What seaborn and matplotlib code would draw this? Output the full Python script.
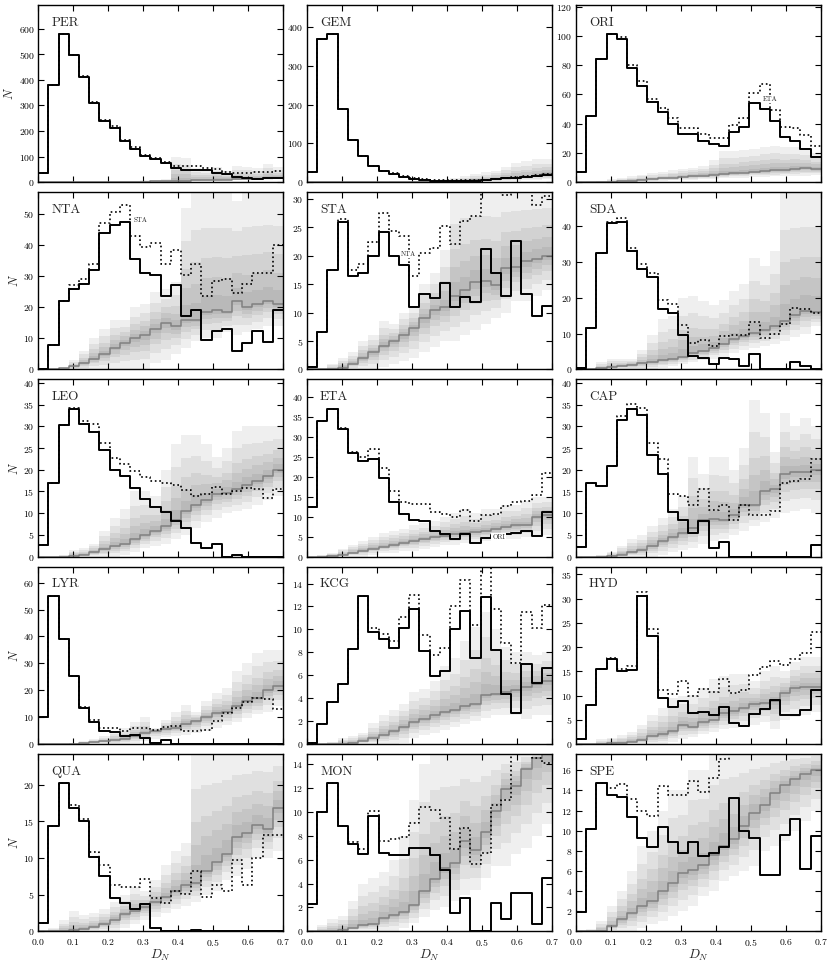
import numpy as np
import pandas as pd
import matplotlib
matplotlib.use('Agg')
import matplotlib.pyplot as plt
import seaborn as sns
from matplotlib.ticker import MultipleLocator

# D_N bins: 24 bins over 0 .. 0.7
edges = np.linspace(0.0, 0.7, 25)

# per shower: observed (solid), alternative (dotted), random median, band top, band bottom
per_obs = [35, 380, 578, 497, 413, 310, 240, 213, 160, 130, 103, 90, 75, 57, 47, 46, 46, 37, 30, 22, 16, 12, 16, 18]
per_alt = [35, 380, 578, 497, 415, 312, 242, 218, 165, 137, 108, 95, 80, 65, 62, 62, 55, 50, 40, 36, 37, 38, 40, 45]
per_med = [0, 0, 0, 0, 0, 0, 0, 0.5, 1, 1.5, 2, 3, 4, 5, 6, 7, 8, 9, 10, 11, 12, 13, 15, 18]
per_hi = [0, 0, 0, 0, 0, 1, 2, 3, 4, 5, 7, 9, 12, 100, 95, 55, 50, 60, 45, 65, 60, 55, 70, 60]
per_lo = [0, 0, 0, 0, 0, 0, 0, 0, 0, 0, 0, 0, 0, 1, 2, 3, 4, 5, 6, 7, 8, 9, 10, 11]

gem_obs = [27, 370, 382, 190, 108, 68, 42, 28, 20, 13, 8, 5, 3, 2, 2, 3, 4, 6, 8, 10, 12, 14, 16, 18]
gem_alt = [27, 370, 382, 190, 108, 68, 42, 30, 23, 15, 10, 7, 5, 5, 5, 5, 6, 6, 8, 10, 13, 16, 18, 20]
gem_med = [0, 0, 0, 0, 0, 0, 0, 0, 0, 0, 0, 1, 1.5, 2, 3, 4, 5, 6, 8, 10, 12, 14, 17, 20]
gem_hi = [0, 0, 0, 0, 0, 0, 1, 1, 2, 2, 3, 4, 5, 8, 10, 15, 20, 25, 30, 40, 50, 55, 60, 60]
gem_lo = [0, 0, 0, 0, 0, 0, 0, 0, 0, 0, 0, 0, 0, 0, 0, 0, 0, 1, 2, 3, 4, 5, 6, 8]

ori_obs = [7, 45, 84, 101, 98, 78, 66, 55, 48, 40, 33, 33, 28, 26, 25, 34, 38, 54, 50, 42, 31, 28, 23, 17]
ori_alt = [7, 45, 84, 101, 99, 80, 69, 57, 51, 44, 37, 37, 33, 30, 30, 39, 44, 61, 67, 49, 38, 37, 32, 25]
ori_med = [0, 0, 0, 0.3, 0.7, 1, 1.5, 2, 2.5, 3, 3.5, 4, 4.5, 5, 5.5, 6, 6.5, 7, 7.5, 8, 8.5, 9, 9.5, 9]
ori_hi = [0, 0.5, 1, 2, 3, 4, 5, 6, 7, 8, 9, 10, 11, 15, 21, 21, 22, 23, 24, 25, 24, 24, 22, 20]
ori_lo = [0, 0, 0, 0, 0, 0, 0.3, 0.6, 1, 1.2, 1.5, 1.8, 2, 2.3, 2.5, 3, 3, 3.5, 3.5, 4, 4, 4.5, 4.5, 5]

nta_obs = [0, 8, 22, 26, 27.5, 32, 44, 46.5, 47.5, 35.5, 31, 30.5, 23.5, 27, 17.2, 19, 9.3, 12.5, 13, 5.8, 8.5, 12.2, 8.8, 19]
nta_alt = [0, 8, 22, 27, 29, 34, 47, 50.5, 53, 43, 39.5, 40.5, 34, 38.5, 30.5, 34, 23.5, 28.5, 29, 24.5, 27.5, 31, 31, 40]
nta_med = [0, 0, 0.3, 1, 2, 3.5, 5, 7, 8.5, 10, 11, 13, 15, 14, 16, 16, 18.5, 19, 18.5, 22, 20, 21, 22, 21]
nta_hi = [0, 0, 0, 3, 6, 10, 13, 16, 16, 20, 21, 25, 26, 28, 52, 57, 57, 57, 57, 54, 57, 57, 57, 57]
nta_lo = [0, 0, 0, 0, 0, 0, 0, 0, 0, 0, 0, 2, 3, 5, 7, 9, 10, 10, 12, 11, 12, 13, 14, 14]

sta_obs = [0.5, 6.5, 17.5, 26, 16.5, 17, 20, 24.2, 20, 18.3, 11, 13.2, 12.5, 15.2, 11, 12.8, 11.8, 21.2, 16.9, 12.9, 22.6, 13.2, 9.4, 11.2]
sta_alt = [0.5, 6.5, 17.5, 26.5, 17.5, 18.5, 22.5, 27.5, 24.3, 23.5, 16.5, 20.5, 21.3, 25.2, 22, 26.2, 27, 32, 32, 30.7, 32, 32, 29, 30.5]
sta_med = [0, 0, 0, 0.3, 1, 2, 3, 4.2, 5, 6, 7.3, 9, 10.5, 11, 13, 14, 15.3, 15.5, 14.8, 17.8, 18, 19, 19.5, 20]
sta_hi = [0, 0, 1, 2, 3, 5, 6, 8.5, 8, 10, 11, 15, 17, 21, 31, 32, 32, 32, 32, 32, 32, 32, 32, 32]
sta_lo = [0, 0, 0, 0, 0, 0, 0, 0.5, 1, 1.5, 2, 3, 4, 5, 5, 6, 7, 8, 9, 10, 12, 12, 13, 14]

sda_obs = [0.5, 11.7, 32.5, 41, 41.3, 33, 28, 25.8, 17, 15.7, 9.5, 3.8, 3.3, 1.5, 3.3, 2.8, 1, 4.2, 0, 0, 0, 2, 1, 0]
sda_alt = [0.5, 11.7, 32.5, 41.3, 42.3, 34, 29.5, 27, 19.3, 18.3, 12.3, 7.5, 8.2, 6.5, 9.3, 9.5, 9.5, 13.3, 8.7, 10, 12.8, 17.3, 16.8, 15.8]
sda_med = [0, 0, 0.3, 0.7, 1, 1.3, 1.7, 2, 2.5, 3, 3.5, 4.5, 5.2, 6, 7.2, 8.5, 9.3, 10.2, 11, 12, 13.5, 15.3, 16.3, 16]
sda_hi = [0, 0.5, 2, 3, 3, 3, 5.5, 9.5, 14, 15, 20, 20.5, 19, 18, 19.5, 22, 24, 31, 29, 33, 50, 50, 50, 50]
sda_lo = [0, 0, 0, 0, 0, 0, 0, 0, 0.5, 1, 1.5, 2, 2.5, 3, 3.5, 4.5, 5.5, 6, 6.5, 7, 8, 9, 10, 12]

leo_obs = [2.8, 17, 30.2, 34, 30.6, 28.8, 24.5, 20, 18.5, 15.8, 13.3, 11.4, 10.2, 8.2, 6.6, 3.2, 2, 2.9, 0, 0.3, 0, 0, 0, 0]
leo_alt = [2.8, 17, 30.2, 34.3, 31.3, 30.5, 26.2, 22.6, 21.3, 19.8, 18.3, 17.5, 17, 16.5, 15.3, 14, 14.5, 16, 14.5, 15, 15.8, 15.6, 13.5, 15.5]
leo_med = [0, 0, 0, 0.2, 0.5, 1, 1.7, 2.5, 3, 4, 5, 6, 7, 8.5, 10.5, 12, 13, 14.5, 14.7, 15.5, 16.5, 17.5, 18.5, 20]
leo_hi = [0, 0, 0.5, 1.5, 2, 3, 6, 9, 11, 15, 15, 14, 20, 26, 28, 28, 26, 23, 25, 29, 30, 30, 30, 30]
leo_lo = [0, 0, 0, 0, 0, 0, 0, 0, 0.5, 1, 2, 2.5, 3, 4, 5, 6.5, 8, 9, 10, 10.5, 11, 12, 13, 14]

eta_obs = [12.5, 34, 37, 32, 26, 24, 24.5, 19.8, 13.6, 10.6, 9.2, 9, 6.5, 5.7, 4.4, 5.7, 3.4, 4.7, 5.5, 5.6, 5.9, 6.4, 5.3, 11.3]
eta_alt = [12.5, 34, 37, 32.2, 26.3, 25, 27, 22.3, 16.5, 13.8, 13.3, 13.2, 11.2, 10.8, 10, 11.7, 9, 10.5, 10.8, 12.8, 13.8, 14, 15.5, 21]
eta_med = [0, 0, 0.2, 0.5, 1, 1.5, 2, 2.5, 3, 3.5, 4, 4.5, 5, 5.3, 5.8, 6, 6.2, 6.5, 7, 7.5, 8, 8, 10, 10.5]
eta_hi = [0, 0.5, 1, 2, 3, 4, 5, 6, 6.5, 7, 8, 8.5, 9, 10, 11, 12, 11, 12, 12, 13, 13, 14, 15, 15]
eta_lo = [0, 0, 0, 0, 0, 0, 0.5, 1, 1, 1.5, 1.5, 2, 2.5, 3, 3, 3.5, 3.5, 4, 4, 4.5, 4.5, 5, 5, 5.5]

cap_obs = [2.2, 17, 16.3, 20.8, 31.5, 34, 32.5, 23.5, 19, 10.2, 8.5, 5.5, 8.3, 2.1, 3.3, 0, 0, 0, 0, 0, 0, 0, 0, 2.8]
cap_alt = [2.2, 17, 16.3, 20.8, 32.3, 35.2, 34.2, 26.2, 22.5, 14.5, 14, 12, 15.6, 10.8, 11.8, 8.5, 12, 9.7, 9.5, 10.5, 17, 17.3, 17.8, 22.5]
cap_med = [0, 0, 0, 0.2, 0.5, 1, 1.5, 2.5, 3.5, 4.5, 5.5, 6.5, 8.5, 8.7, 8.5, 9.5, 12, 12, 15, 15.5, 19, 19.5, 19.5, 20]
cap_hi = [0, 0, 0.5, 1, 2.5, 4, 5, 7, 9, 11, 14, 23, 19, 23, 23, 20, 25, 36, 33, 24, 33, 30, 32, 30]
cap_lo = [0, 0, 0, 0, 0, 0, 0, 0, 0.5, 1, 1.5, 2, 3, 3.5, 4, 5, 6, 7, 8, 9, 10, 10.5, 11, 10]

lyr_obs = [10.2, 55, 39, 25.2, 13.3, 8.3, 5, 4.5, 3, 3.3, 2.2, 0.4, 1.4, 0, 0, 0, 0, 0, 0, 0, 0, 0, 0, 0]
lyr_alt = [10.2, 55, 39, 25.2, 13.8, 9, 6, 6, 5, 6, 6, 5.2, 6.3, 6.5, 5, 5, 5.2, 8.5, 11.5, 13.5, 15.5, 17, 16.8, 13]
lyr_med = [0, 0, 0, 0, 0.3, 0.6, 1, 1.5, 2, 3, 4, 5, 5.5, 6, 7.5, 8.5, 10, 11.5, 12, 14, 16, 17, 20, 21.5]
lyr_hi = [0, 0, 0, 0.5, 1, 2, 3, 4.5, 6, 8, 10, 6, 9, 12, 14.5, 12, 16, 19, 21, 27, 30, 34, 35, 35]
lyr_lo = [0, 0, 0, 0, 0, 0, 0, 0, 0, 0.5, 1, 2, 2.5, 3, 3.5, 4, 5, 6, 7, 8, 9.5, 11, 12, 14]

kcg_obs = [0.1, 1.7, 3.7, 5.2, 8.3, 12.9, 9.8, 9.2, 8.4, 10.1, 11.8, 8.1, 5.9, 6.4, 10, 11.6, 7.5, 12.8, 8.2, 4.4, 2.7, 7, 5.3, 6.6]
kcg_alt = [0.1, 1.7, 3.7, 5.2, 8.3, 12.9, 10.1, 9.6, 9, 11.1, 13, 9.5, 7.8, 8.4, 12, 14.3, 10.4, 15.5, 11.8, 8.8, 7.1, 11.5, 10.1, 12.1]
kcg_med = [0, 0, 0, 0, 0.1, 0.3, 0.5, 0.8, 1.1, 1.5, 1.9, 2.2, 2.5, 2.8, 3, 3.3, 3.5, 4.3, 4.4, 4.5, 4.7, 5, 5.2, 5.5]
kcg_hi = [0, 0, 0.2, 0.5, 0.7, 1, 1.8, 2.5, 3, 3.5, 4.5, 4.8, 5.5, 6.8, 7.5, 9, 10.2, 11.5, 10, 8.5, 8, 8, 7.8, 8]
kcg_lo = [0, 0, 0, 0, 0, 0, 0, 0, 0, 0.1, 0.5, 0.8, 1, 1.2, 1.5, 1.7, 2, 2.3, 2.5, 2.5, 2.5, 2.2, 2.5, 2.5]

hyd_obs = [1.1, 8.1, 15.5, 17.6, 15.1, 15.3, 30.5, 22.2, 9.4, 7.7, 8.8, 6.3, 6.6, 5.9, 7.7, 4.3, 3.8, 6.2, 7.3, 9, 5.9, 5.9, 7.1, 11.2]
hyd_alt = [1.1, 8.1, 15.5, 17.8, 15.5, 16, 31.3, 23.8, 11.2, 10.4, 12.9, 9.9, 11.4, 10.8, 13.5, 10.6, 11.2, 14.3, 15.9, 17.1, 16.2, 17.5, 18.8, 23.1]
hyd_med = [0, 0, 0, 0.1, 0.2, 0.5, 0.8, 1.6, 2, 2.6, 3.9, 3.6, 4.5, 5, 6.3, 6.7, 7.5, 8.2, 8.5, 8.8, 10.5, 11.5, 11.8, 11.8]
hyd_hi = [0, 0, 1, 1.3, 1.8, 2.5, 4, 6, 7.5, 9.5, 10, 10.2, 11.5, 13.5, 14, 14.5, 14.5, 13, 15, 16, 15, 17, 18, 18]
hyd_lo = [0, 0, 0, 0, 0, 0, 0, 0, 0, 0.5, 1, 1.5, 2, 2.5, 3, 3.3, 3.5, 4, 4.5, 3, 5, 5.5, 6, 6.5]

qua_obs = [1.1, 14.4, 20.2, 16.9, 15, 10.1, 7.5, 4.5, 3.8, 3.1, 3.7, 0.4, 0, 0, 0, 0.1, 0, 0, 0, 0, 0, 0, 0, 0]
qua_alt = [1.1, 14.4, 20.2, 17.3, 15.3, 10.8, 9, 6.3, 6, 6.1, 7.1, 4.6, 3.8, 5.5, 5.1, 8.2, 4.7, 6.3, 5.5, 9.8, 6.3, 10, 13.1, 13.1]
qua_med = [0, 0, 0, 0.1, 0.3, 0.6, 1, 1.6, 2.3, 2.8, 3.3, 4, 4.7, 5.5, 6.3, 6.6, 8.3, 9.4, 10.6, 12.9, 13.4, 14.5, 14, 16.9]
qua_hi = [0, 0.5, 1.5, 2.8, 2.2, 2.5, 3, 4, 5, 6, 5.5, 7, 9, 11, 12, 25, 25, 25, 25, 25, 25, 25, 25, 25]
qua_lo = [0, 0, 0, 0, 0, 0, 0, 0, 0.5, 1, 1.5, 2, 2.5, 3, 3.5, 4, 5, 5.5, 7, 7.5, 8.5, 10, 10, 11]

mon_obs = [2.3, 10, 12.4, 8.8, 7.3, 6.5, 9.7, 6.6, 6.4, 6.4, 7.0, 7.0, 6.4, 5.1, 1.5, 2.8, 0, 0, 2.4, 1, 3.2, 3.2, 0.6, 4.5]
mon_alt = [2.3, 10, 12.4, 8.8, 7.5, 6.9, 10.1, 7.6, 7.7, 7.9, 9.1, 10.4, 10.2, 9.5, 6.9, 8.7, 5.6, 6.6, 10.6, 11, 15.5, 15.5, 14.5, 14.1]
mon_med = [0, 0, 0, 0.1, 0.3, 0.5, 0.6, 1.1, 1.4, 1.6, 2.2, 3.4, 4.4, 5.3, 5.7, 7.6, 6.8, 8.3, 10.1, 11.9, 12.2, 13.6, 14.5, 15]
mon_hi = [0, 0.5, 1, 1.3, 2.5, 4, 4.5, 5, 6, 8, 11, 14, 15, 15, 15, 15, 15, 15, 15, 15, 15, 15, 15, 15]
mon_lo = [0, 0, 0, 0, 0, 0, 0, 0, 0, 0.3, 0.7, 1.2, 1.8, 2, 2.5, 3, 3.5, 4.5, 5.5, 5.5, 6.5, 7, 8, 9]

spe_obs = [1.9, 10.2, 14.7, 13.6, 13.4, 11.4, 9.3, 8.4, 10.4, 8.9, 7.8, 8.9, 7.5, 7.8, 8.4, 13.3, 10, 9.3, 5.6, 5.6, 9.6, 11.2, 6.2, 9.5]
spe_alt = [1.9, 10.2, 14.7, 14.2, 14.6, 13.2, 12, 11.5, 14.4, 13.6, 13.6, 14.9, 13.8, 15.2, 17.1, 18, 18, 18, 18, 18, 18, 18, 18, 18]
spe_med = [0, 0, 0, 0.5, 1.2, 1.8, 2.5, 3, 4, 4.8, 5.8, 6.1, 6.6, 7.6, 8.5, 9.2, 10.5, 11.8, 12.6, 13.7, 14.5, 15.1, 15.6, 16]
spe_hi = [0, 0.2, 1, 2.5, 4, 6, 8.5, 10, 12, 14, 14, 16, 16, 17.5, 18, 18, 18, 18, 18, 18, 18, 18, 18, 18]
spe_lo = [0, 0, 0, 0, 0, 0, 0.3, 0.7, 1, 1.5, 2, 2.5, 3.5, 4, 5, 5.5, 6, 6.5, 8, 8.5, 9, 10, 11, 12]

showers = ['PER', 'GEM', 'ORI', 'NTA', 'STA', 'SDA', 'LEO', 'ETA', 'CAP',
           'LYR', 'KCG', 'HYD', 'QUA', 'MON', 'SPE']
series = {
    'PER': (per_obs, per_alt, per_med, per_hi, per_lo),
    'GEM': (gem_obs, gem_alt, gem_med, gem_hi, gem_lo),
    'ORI': (ori_obs, ori_alt, ori_med, ori_hi, ori_lo),
    'NTA': (nta_obs, nta_alt, nta_med, nta_hi, nta_lo),
    'STA': (sta_obs, sta_alt, sta_med, sta_hi, sta_lo),
    'SDA': (sda_obs, sda_alt, sda_med, sda_hi, sda_lo),
    'LEO': (leo_obs, leo_alt, leo_med, leo_hi, leo_lo),
    'ETA': (eta_obs, eta_alt, eta_med, eta_hi, eta_lo),
    'CAP': (cap_obs, cap_alt, cap_med, cap_hi, cap_lo),
    'LYR': (lyr_obs, lyr_alt, lyr_med, lyr_hi, lyr_lo),
    'KCG': (kcg_obs, kcg_alt, kcg_med, kcg_hi, kcg_lo),
    'HYD': (hyd_obs, hyd_alt, hyd_med, hyd_hi, hyd_lo),
    'QUA': (qua_obs, qua_alt, qua_med, qua_hi, qua_lo),
    'MON': (mon_obs, mon_alt, mon_med, mon_hi, mon_lo),
    'SPE': (spe_obs, spe_alt, spe_med, spe_hi, spe_lo),
}
# y tick spacing per panel
ystep = [100, 100, 20, 10, 5, 10, 5, 5, 5, 10, 2, 5, 5, 2, 2]
# neighbouring-shower tags: (panel, text, x, y)
tags = [('NTA', 'STA', 0.272, 48), ('STA', 'NTA', 0.268, 20.3),
        ('ORI', 'ETA', 0.535, 57), ('ETA', 'ORI', 0.53, 5)]

sns.set_style('ticks')
plt.rcParams.update({
    'font.family': ['cmr10', 'DejaVu Serif'],
    'mathtext.fontset': 'cm',
    'axes.unicode_minus': False,
    'axes.formatter.use_mathtext': True,
    'xtick.direction': 'in', 'ytick.direction': 'in',
    'xtick.top': True, 'ytick.right': True,
    'xtick.major.size': 4, 'ytick.major.size': 4,
    'xtick.major.width': 0.8, 'ytick.major.width': 0.8,
    'axes.linewidth': 1.0, 'axes.edgecolor': 'black',
    'xtick.color': 'black', 'ytick.color': 'black',
})

fig, axes = plt.subplots(5, 3, figsize=(8.3, 9.64), dpi=100)
fig.subplots_adjust(left=0.046, right=0.989, top=0.995, bottom=0.034,
                    wspace=0.098, hspace=0.056)

fracs = [1.0, 0.7, 0.45, 0.28, 0.13]


def step_line(ax, values, **kw):
    # step histogram outline: value of bin i held from edge i to edge i+1
    df = pd.DataFrame({'dn': edges, 'n': np.r_[values, values[-1]]})
    sns.lineplot(data=df, x='dn', y='n', drawstyle='steps-post',
                 estimator=None, sort=False, ax=ax, **kw)


for i, name in enumerate(showers):
    ax = axes.flat[i]
    obs, alt, med, hi, lo = [np.asarray(a, float) for a in series[name]]
    for f in fracs:
        top = med + f * (hi - med)
        bot = med - f * (med - lo)
        ax.fill_between(edges, np.r_[bot, bot[-1]], np.r_[top, top[-1]],
                        step='post', color='0.15', alpha=0.07, lw=0, zorder=1)
    step_line(ax, med, color='0.5', lw=1.1, zorder=2)
    step_line(ax, alt, color='black', lw=1.2, linestyle=':', zorder=3)
    step_line(ax, obs, color='black', lw=1.4, zorder=4)

    ax.set_xlim(0, 0.7)
    ax.set_ylim(0, 1.2 * obs.max())
    ax.xaxis.set_major_locator(MultipleLocator(0.1))
    ax.yaxis.set_major_locator(MultipleLocator(ystep[i]))
    ax.tick_params(axis='y', labelsize=7, pad=2.5)
    ax.tick_params(axis='x', labelsize=7, pad=4)
    ax.text(0.053, 0.90, name, transform=ax.transAxes, fontsize=9.5,
            ha='left', va='center')

    if i % 3 == 0:
        ax.set_ylabel('$N$', fontsize=9, labelpad=2)
    else:
        ax.set_ylabel('')
    if i >= 12:
        ax.set_xlabel('$D_N$', fontsize=9.5, labelpad=0)
    else:
        ax.set_xlabel('')
        ax.set_xticklabels([])

    for panel, txt, tx, ty in tags:
        if panel == name:
            ax.text(tx, ty, txt, fontsize=5, ha='left', va='center', zorder=6,
                    bbox=dict(facecolor='white', edgecolor='none', pad=0.8))

fig.savefig('out.png', dpi=100)
